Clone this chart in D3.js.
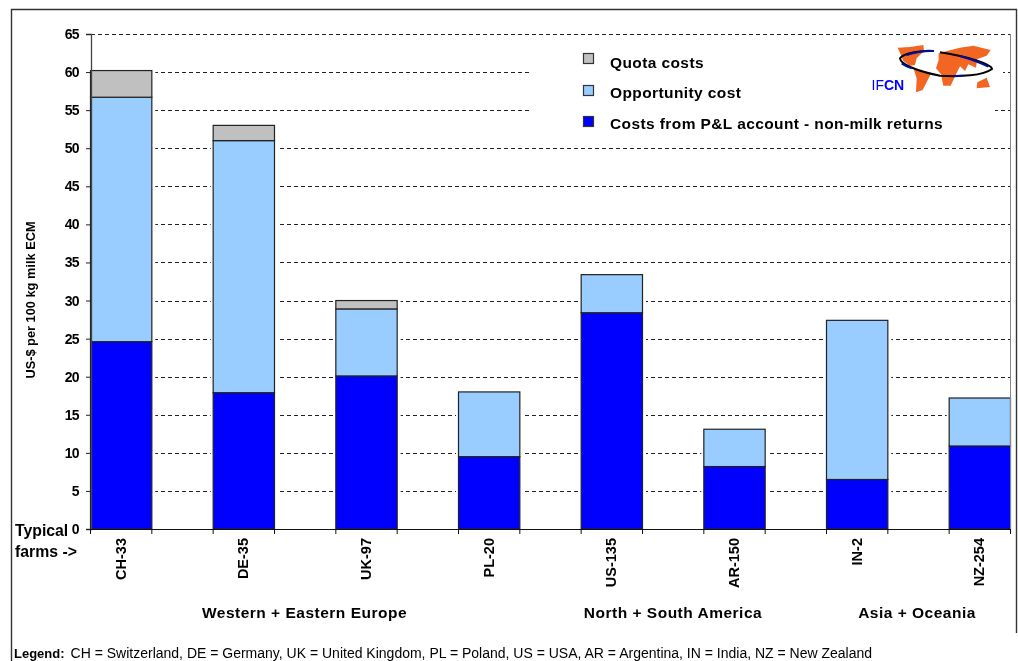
<!DOCTYPE html>
<html><head><meta charset="utf-8">
<script src="https://d3js.org/d3.v7.min.js"></script>
<style>html,body{margin:0;padding:0;background:#fff}svg{display:block;filter:blur(.35px)}text{font-family:"Liberation Sans",Arial,sans-serif;fill:#000}</style>
</head><body><svg id="c" width="1018" height="661"></svg>
<script>
const farms=["CH-33","DE-35","UK-97","PL-20","US-135","AR-150","IN-2","NZ-254"];
const plCosts=[24.6,17.9,20.1,9.5,28.4,8.2,6.5,10.9];
const opportunity=[32.1,33.1,8.8,8.5,5.0,4.9,20.9,6.3];
const quota=[3.5,2.0,1.1,0,0,0,0,0];
const yTicks=[0,5,10,15,20,25,30,35,40,45,50,55,60,65];
const seriesNames=["plCosts","opportunity","quota"];
const seriesColors=["#0000ff","#99ccff","#c0c0c0"];
const legendItems=["Quota costs","Opportunity cost","Costs from P&L account - non-milk returns"];
const legendColors=["#c0c0c0","#99ccff","#0000ff"];
const regions=[["Western + Eastern Europe",304.5],["North + South America",673],["Asia + Oceania",917]];

const svg=d3.select("#c");
svg.append("path").attr("d","M11.5,661V9.5H1016.5V633").attr("fill","none").attr("stroke","#333").attr("stroke-width",1.4);

const x=d3.scaleBand().domain(farms).range([91,1011]).paddingInner(0.5).paddingOuter(0);
const y=d3.scaleLinear().domain([0,65]).range([529,34]);
const rows=farms.map((f,i)=>({farm:f,plCosts:plCosts[i],opportunity:opportunity[i],quota:quota[i]}));
const stacked=d3.stack().keys(seriesNames)(rows);

// gridlines
svg.append("g").selectAll("line").data(yTicks.slice(1)).join("line")
 .attr("x1",91).attr("x2",1011).attr("y1",d=>Math.round(y(d))+.5).attr("y2",d=>Math.round(y(d))+.5)
 .attr("stroke","#222").attr("stroke-width",1).attr("stroke-dasharray","4 3");

// white halo beside the bars and legend background
svg.append("g").selectAll("rect").data(rows).join("rect")
 .attr("x",d=>x(d.farm)-3).attr("width",x.bandwidth()+6)
 .attr("y",d=>y(d.plCosts+d.opportunity+d.quota)).attr("height",d=>529-y(d.plCosts+d.opportunity+d.quota)).attr("fill","#fff");
svg.append("rect").attr("x",529).attr("y",42).attr("width",466).attr("height",96).attr("fill","#fff");
svg.append("rect").attr("x",995).attr("y",62).attr("width",8).attr("height",20).attr("fill","#fff");

// bars
stacked.forEach((s,k)=>{
 svg.append("g").selectAll("rect").data(s.filter(d=>d[1]>d[0])).join("rect")
  .attr("x",d=>x(d.data.farm)-.5).attr("width",x.bandwidth())
  .attr("y",d=>y(d[1])).attr("height",d=>y(d[0])-y(d[1]))
  .attr("fill",seriesColors[k]).attr("stroke","#222").attr("stroke-width",1.2);
});

// axes
const ya=svg.append("g").attr("transform","translate(91,0)").call(d3.axisLeft(y).tickValues(yTicks).tickSize(5).tickPadding(7));
ya.select(".domain").attr("stroke","#444").attr("stroke-width",1.3);
ya.selectAll(".tick line").attr("stroke","#222");
ya.selectAll("text").attr("font-size",14).attr("font-weight","bold").attr("letter-spacing","-.6");
svg.append("line").attr("x1",1010.5).attr("x2",1010.5).attr("y1",34).attr("y2",529).attr("stroke","#888");
svg.append("line").attr("x1",91).attr("x2",1011).attr("y1",529.5).attr("y2",529.5).attr("stroke","#111");
svg.append("g").selectAll("path").data(farms).join("path")
 .attr("d",d=>`M${x(d)-.5},529V534M${x(d)+x.bandwidth()-.5},529V534`).attr("stroke","#111").attr("fill","none");
svg.append("g").selectAll("text").data(farms).join("text")
 .attr("font-size",14.5).attr("font-weight","bold").text(d=>d)
 .attr("text-anchor","end").attr("transform",d=>`translate(${x(d)+x.bandwidth()/2+4},538) rotate(-90)`);

// titles
svg.append("text").attr("transform","translate(35,300) rotate(-90)").attr("text-anchor","middle").attr("font-size",12.8).attr("font-weight","bold").text("US-$ per 100 kg milk ECM");
svg.append("text").attr("x",15).attr("y",536).attr("font-size",15.8).attr("font-weight","bold").text("Typical");
svg.append("text").attr("x",15).attr("y",557).attr("font-size",15.8).attr("font-weight","bold").text("farms ->");
svg.append("g").selectAll("text").data(regions).join("text").attr("x",d=>d[1]).attr("y",618).attr("text-anchor","middle").attr("font-size",15.5).attr("letter-spacing",".5").attr("font-weight","bold").text(d=>d[0]);
const leg=svg.append("text").attr("x",14).attr("y",658).attr("font-size",14);
leg.append("tspan").attr("font-weight","bold").attr("font-size",13).text("Legend:");
leg.append("tspan").attr("dx",6).text("CH = Switzerland, DE = Germany, UK = United Kingdom, PL = Poland, US = USA, AR = Argentina, IN = India, NZ = New Zealand");

// legend
const legY=[53.5,85.5,116.5];
const legB=[68,98,129];
legendItems.forEach((t,i)=>{
 svg.append("rect").attr("x",583.5).attr("y",legY[i]).attr("width",10).attr("height",10).attr("fill",legendColors[i]).attr("stroke","#333").attr("stroke-width",1.2);
 svg.append("text").attr("x",610).attr("y",legB[i]).attr("font-size",15.5).attr("font-weight","bold").attr("letter-spacing",".4").text(t);
});

// IFCN logo (drawn in 3x crop units)
const g=svg.append("g").attr("transform","translate(860,35) scale(.3333)");
const land=[
 "M113,38L150,36L190,30L192,48L170,70L165,90L150,92L130,78L122,58Z",
 "M160,98L212,118L188,165L168,172L170,130Z",
 "M236,55L270,46L300,38L340,32L392,45L380,62L352,72L348,98L325,88L315,108L300,94L288,118L272,152L250,152L243,118L228,100L236,75Z",
 "M352,142L380,128L390,156L350,160Z"];
g.selectAll("path.l").data(land).join("path").attr("class","l").attr("d",d=>d).attr("fill","#f26522");
g.append("path").attr("d","M222,48C190,44 130,55 120,70C122,88 170,108 240,122C300,126 370,122 396,102C396,90 330,65 240,52")
 .attr("fill","none").attr("stroke","#000").attr("stroke-width",6);
g.append("path").attr("d","M140,60C170,50 195,47 222,48M300,63C330,72 360,82 385,95M125,85C135,92 145,97 155,100M280,123L310,122")
 .attr("fill","none").attr("stroke","#00109a").attr("stroke-width",6);
const logo=svg.append("text").attr("x",871.5).attr("y",90).attr("font-size",14).style("fill","#0000ff");
logo.append("tspan").text("IF");
logo.append("tspan").attr("font-weight","bold").text("CN");
</script></body></html>
